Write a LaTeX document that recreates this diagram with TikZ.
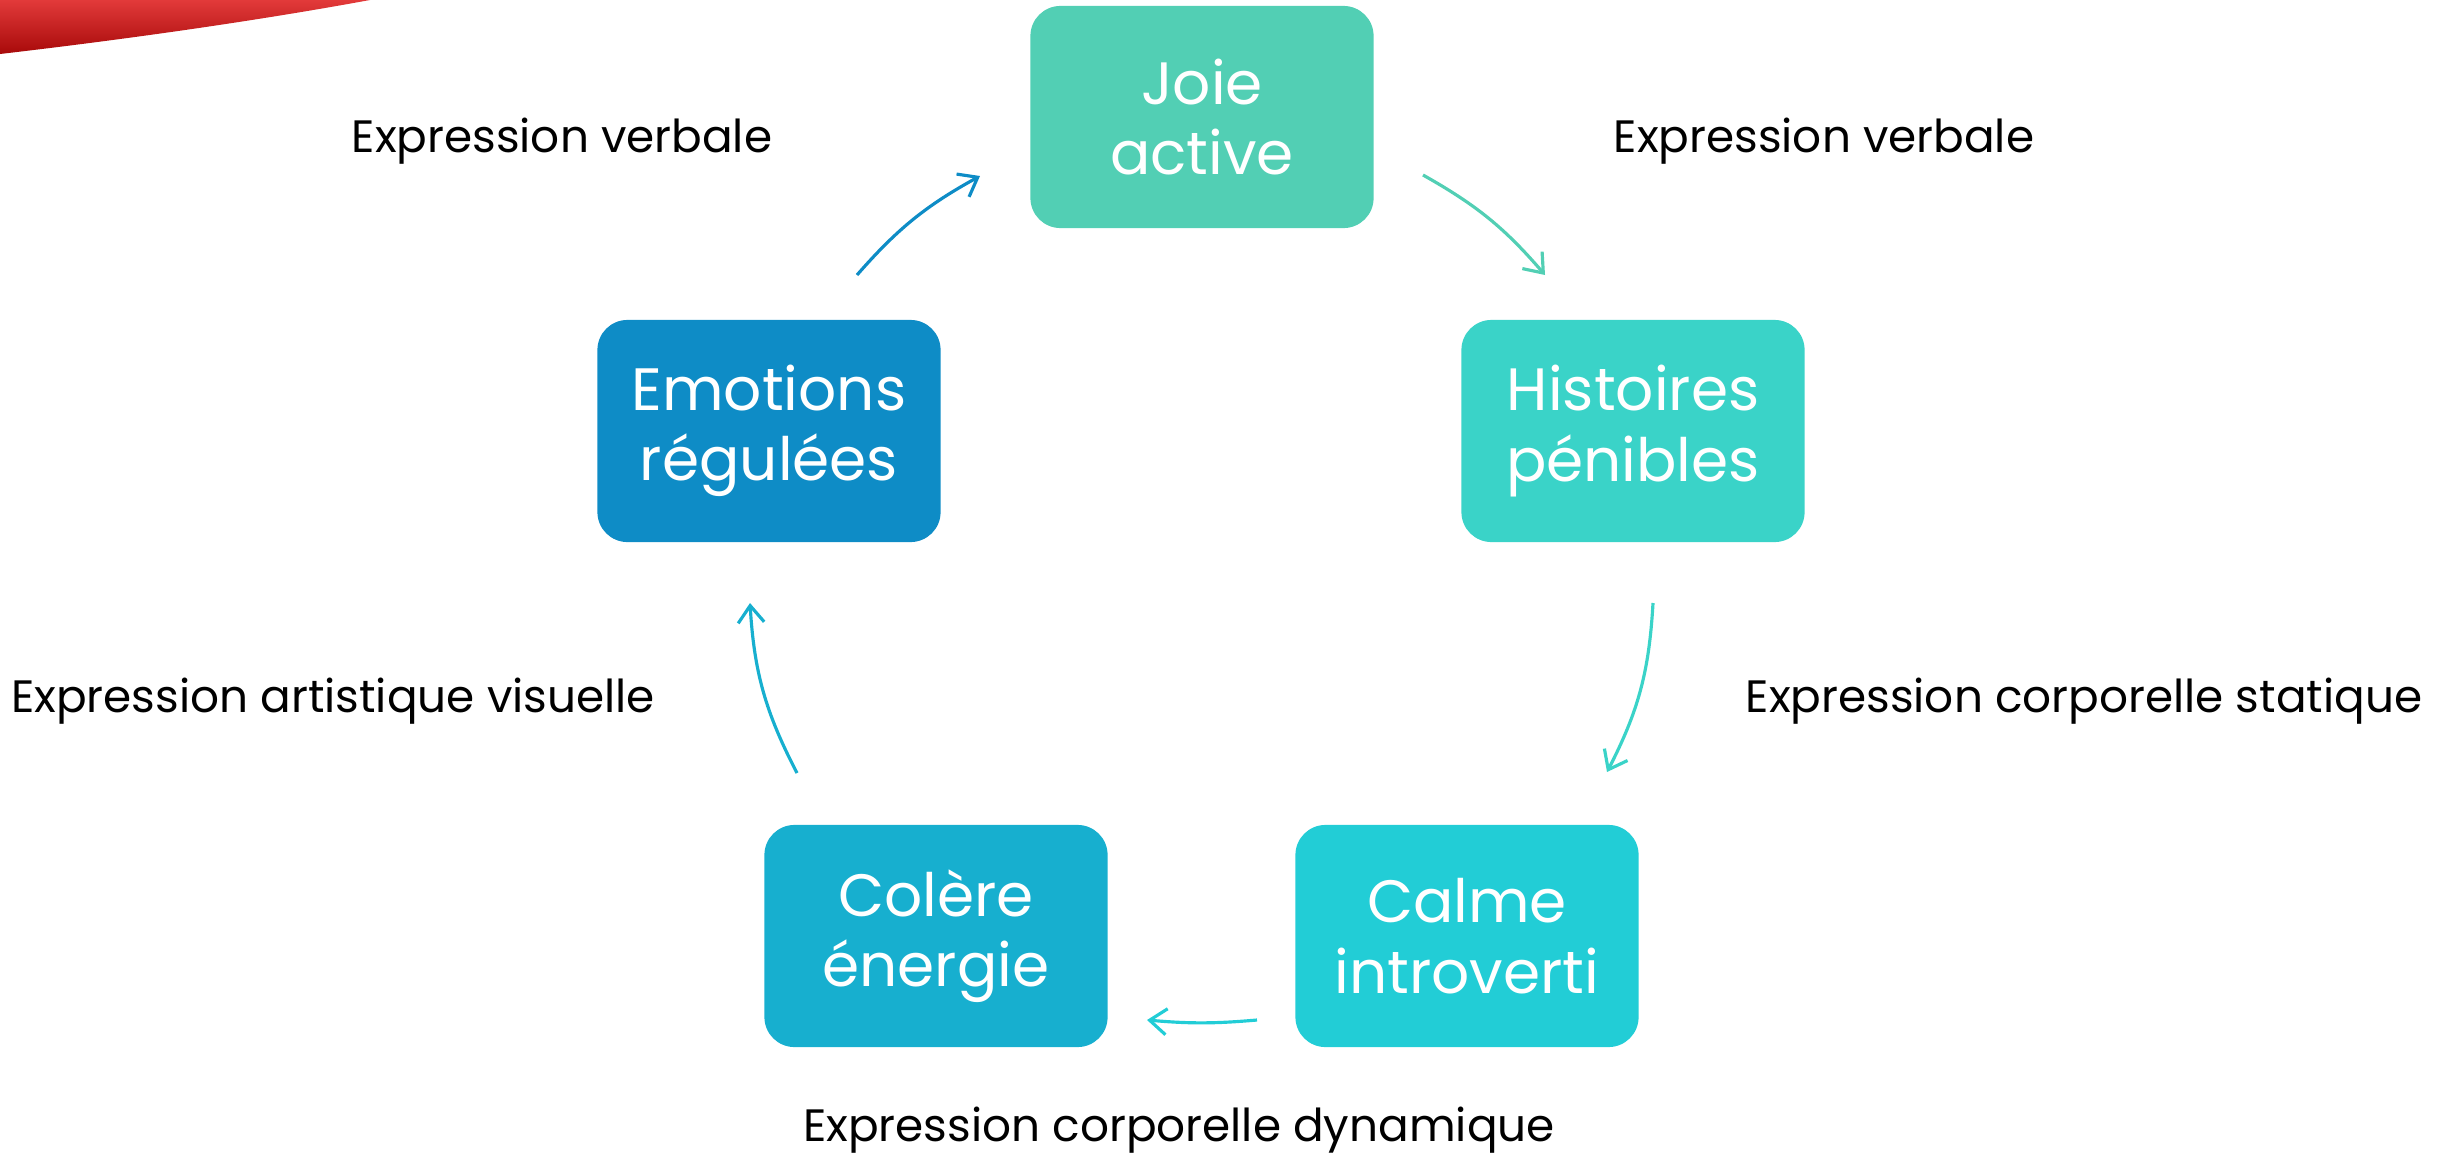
\documentclass[tikz,border=0pt]{standalone}
\usepackage{fontspec}
\setmainfont{Poppins}
\usetikzlibrary{arrows.meta,positioning}

\definecolor{joiecol}{HTML}{52CFB4}
\definecolor{histcol}{HTML}{3AD3C8}
\definecolor{calmecol}{HTML}{22CDD6}
\definecolor{colercol}{HTML}{17AFCF}
\definecolor{emocol}{HTML}{0E8CC6}
\definecolor{swoosha}{HTML}{E23A3A}
\definecolor{swooshb}{HTML}{A80A0A}

\tikzset{
  emobox/.style={rectangle, rounded corners=0.3cm, minimum width=3.43cm,
    minimum height=2.22cm, text=white, align=center,
    font=\fontsize{17}{20}\selectfont},
  lbl/.style={font=\fontsize{12.9}{15}\selectfont, text=black},
  cyc/.style={line width=0.9pt, -{Straight Barb[length=1.7mm,width=2.6mm]}}
}

\begin{document}
\begin{tikzpicture}[x=0.01cm,y=-0.01cm]
    \useasboundingbox (0,0) rectangle (2448,1157);
    % red swoosh in the corner
    \shade [top color=swoosha, bottom color=swooshb]
      (0,0) -- (370,0) .. controls (250,22) and (120,40) .. (0,54) -- cycle;
    % boxes
    \node [emobox, fill=joiecol] (joie) at (1202,117) {Joie\\active};
    \node [emobox, fill=histcol] (hist) at (1633,431) {Histoires\\pénibles};
    \node [emobox, fill=calmecol] (calme) at (1467,936) {Calme\\introverti};
    \node [emobox, fill=colercol] (colere) at (936,936) {Colère\\énergie};
    \node [emobox, fill=emocol] (emo) at (769,431) {Emotions\\régulées};
    % arrow ends
    \coordinate (emoout) at (857,275);
    \coordinate (joiein) at (980,176);
    \coordinate (joieout) at (1423,175);
    \coordinate (histin) at (1545,275);
    \coordinate (histout) at (1653,603);
    \coordinate (calmein) at (1607,772);
    \coordinate (calmeout) at (1257,1020);
    \coordinate (colerein) at (1147,1020);
    \coordinate (colereout) at (797,773);
    \coordinate (emoin) at (750,603);
    \draw [cyc, emocol] (emoout) to [bend left=10] (joiein);
    \draw [cyc, joiecol] (joieout) to [bend left=10] (histin);
    \draw [cyc, histcol] (histout) to [bend left=12] (calmein);
    \draw [cyc, calmecol] (calmeout) to [bend left=5] (colerein);
    \draw [cyc, colercol] (colereout) to [bend left=12] (emoin);
    % labels
    \node [lbl] (verbg) at (562,141) {Expression verbale};
    \node [lbl] (verbd) at (1824,141) {Expression verbale};
    \node [lbl] (statique) at (2084,701) {Expression corporelle statique};
    \node [lbl] (visuelle) at (333,701) {Expression artistique visuelle};
    \node [lbl] (dynamique) at (1179,1130) {Expression corporelle dynamique};
\end{tikzpicture}
\end{document}
